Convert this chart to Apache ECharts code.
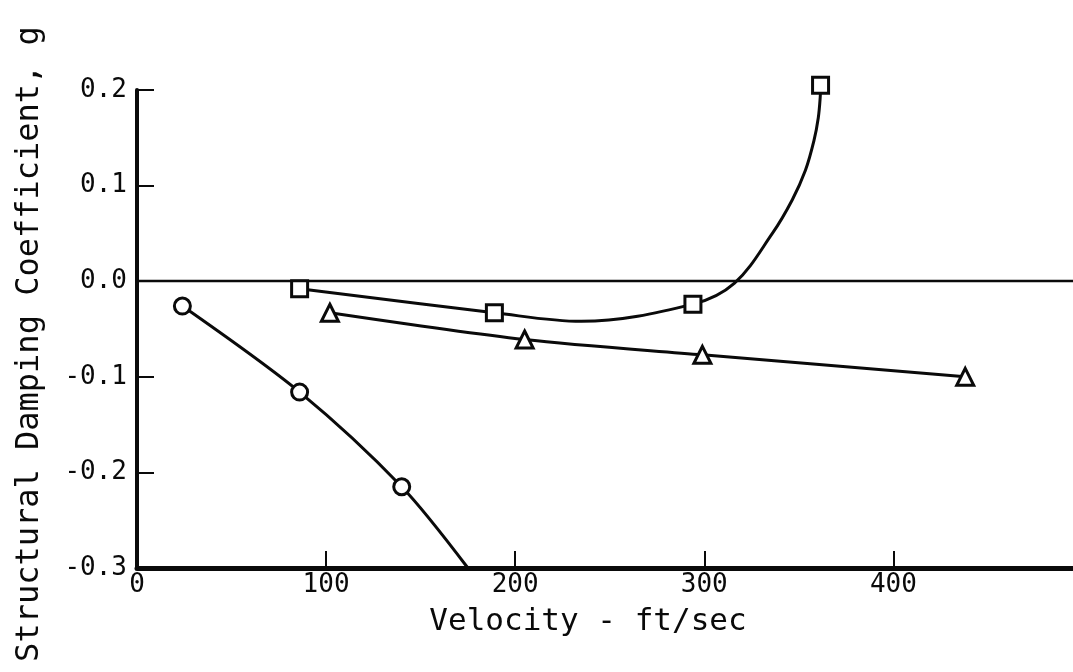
<!DOCTYPE html>
<html>
<head>
<meta charset="utf-8">
<script src="https://cdn.jsdelivr.net/npm/echarts@6/dist/echarts.min.js"></script>
<style>html,body{margin:0;padding:0;background:#fff;}#c{width:1073px;height:672px;}</style>
</head>
<body>
<div id="c"></div>
<script>
// Marker points
const circlePoints = [[24, -0.026], [86, -0.116], [140, -0.215]];
const circleCurve = [[24, -0.026], [86, -0.116], [140, -0.215], [175, -0.300]];
const squarePoints = [[86, -0.008], [189, -0.033], [294, -0.024], [361.5, 0.205]];
// curve traced through the squares
const squareCurve = [[86, -0.008], [189, -0.033], [235, -0.042], [294, -0.024], [316, -0.002], [336, 0.050], [346.5, 0.085], [353.5, 0.116], [358, 0.147], [360.3, 0.171], [361.3, 0.192], [361.5, 0.205]];
const trianglePoints = [[102, -0.033], [205, -0.061], [299, -0.077], [438, -0.100]];
const xTickLabels = [0, 100, 200, 300, 400];
const xTickMarks = [100, 200, 300, 400];
const yTickLabels = [-0.3, -0.2, -0.1, 0.0, 0.1, 0.2];
const yTickMarks = [-0.2, -0.1, 0.1, 0.2];

const FONT = '"DejaVu Sans Mono", "Liberation Mono", monospace';
const INK = '#0a0a0a';

const chart = echarts.init(document.getElementById('c'), null, {renderer: 'canvas'});
function lineSeries(data, smooth) {
  return {type: 'line', data: data, smooth: smooth, showSymbol: false, symbol: 'none', clip: false,
    lineStyle: {color: INK, width: 3}, z: 3, silent: true, animation: false};
}
function markerSeries(data, symbol, size) {
  return {type: 'scatter', data: data, symbol: symbol, symbolSize: size, clip: false,
    itemStyle: {color: '#fff', borderColor: INK, borderWidth: 3, opacity: 1}, z: 5, animation: false};
}
chart.setOption({
  animation: false,
  backgroundColor: '#fff',
  grid: {left: 137, right: 0, top: 90, bottom: 104, containLabel: false},
  xAxis: {
    type: 'value', min: 0, max: 495, interval: 100,
    axisLine: {show: true, onZero: false, lineStyle: {color: INK, width: 5}},
    axisTick: {show: true, inside: true, length: 17, lineStyle: {color: INK, width: 2}, customValues: xTickMarks},
    axisLabel: {customValues: xTickLabels, fontFamily: FONT, fontSize: 26, color: INK, margin: 4},
    splitLine: {show: false}
  },
  yAxis: {
    type: 'value', min: -0.3, max: 0.2, interval: 0.1,
    axisLine: {show: true, onZero: false, lineStyle: {color: INK, width: 4}},
    axisTick: {show: true, inside: true, length: 17, lineStyle: {color: INK, width: 2}, customValues: yTickMarks},
    axisLabel: {customValues: yTickLabels, fontFamily: FONT, fontSize: 26, color: INK, margin: 10,
      formatter: v => v.toFixed(1)},
    splitLine: {show: false}
  },
  series: [
    Object.assign(lineSeries(circleCurve, 0.3), {
      markLine: {silent: true, symbol: 'none', label: {show: false},
        lineStyle: {color: INK, width: 2.4, type: 'solid'}, data: [{yAxis: 0}]}
    }),
    lineSeries(squareCurve, 0.35),
    lineSeries(trianglePoints, 0.3),
    markerSeries(circlePoints, 'circle', 16),
    markerSeries(squarePoints, 'rect', 16),
    markerSeries(trianglePoints, 'triangle', 17)
  ],
  graphic: [
    {type: 'text', position: [588, 622], style: {text: 'Velocity - ft/sec', font: '31px ' + FONT, fill: INK, textAlign: 'center', textVerticalAlign: 'middle'}},
    {type: 'text', rotation: Math.PI / 2, position: [30, 344], style: {text: 'Structural Damping Coefficient, g', font: '32px ' + FONT, fill: INK, textAlign: 'center', textVerticalAlign: 'middle'}}
  ]
});
</script>
</body>
</html>
